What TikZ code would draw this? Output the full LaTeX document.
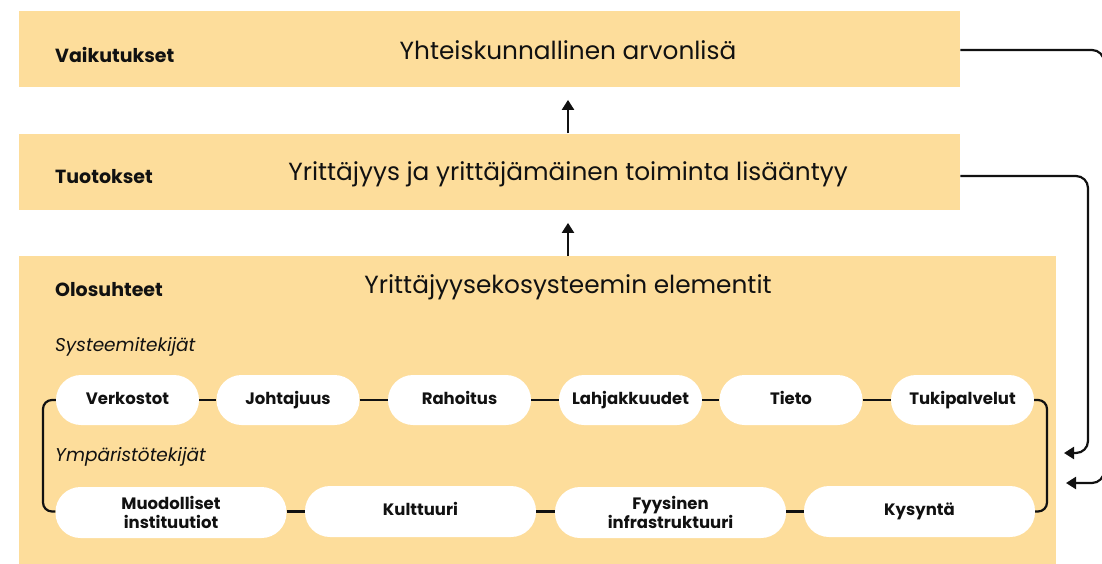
\documentclass[tikz,border=0pt]{standalone}
\usepackage{fontspec}
\setmainfont{Poppins}
\usetikzlibrary{arrows.meta}
\definecolor{band}{HTML}{FDDD9B}
\definecolor{ink}{HTML}{111111}
\begin{document}
\begin{tikzpicture}[x=1pt,y=-1pt,
  bandbox/.style={fill=band,draw=none,inner sep=0pt,anchor=north west},
  lbl/.style={anchor=west,font=\fontsize{19}{20}\selectfont\bfseries,text=ink,inner sep=0pt},
  ttl/.style={font=\fontsize{24.8}{28}\selectfont,text=ink,inner sep=0pt},
  grp/.style={anchor=west,font=\fontsize{18.5}{20}\selectfont\itshape,text=ink,inner sep=0pt},
  pillA/.style={fill=white,draw=none,rounded corners=25pt,minimum width=143pt,minimum height=50pt,inner sep=0pt,align=center,font=\fontsize{16.5}{19}\selectfont\bfseries,text=ink,text height=0.85em,text depth=0pt},
  pillB/.style={pillA,minimum width=231pt,minimum height=51pt},
  twoline/.style={text height=,text depth=},
  conn/.style={draw=ink,line width=2.2pt},
  arr/.style={conn,-{Triangle[width=12pt,length=10pt]}},
  ]
\useasboundingbox (0,0) rectangle (1102,564);
% bands
\node[bandbox,minimum width=941pt,minimum height=76pt] (vai) at (19,10.5) {};
\node[bandbox,minimum width=941pt,minimum height=76pt] (tuo) at (19,133.5) {};
\node[bandbox,minimum width=1037pt,minimum height=308.5pt] (olo) at (19,256) {};
% labels and titles
\node[lbl] (lv) at (55,55) {Vaikutukset};
\node[lbl] (lt) at (55,177) {Tuotokset};
\node[lbl] (lo) at (55,290) {Olosuhteet};
\node[ttl] (tv) at (568,50) {Yhteiskunnallinen arvonlisä};
\node[ttl] (tt) at (568,174) {Yrittäjyys ja yrittäjämäinen toiminta lisääntyy};
\node[ttl] (to) at (568,287) {Yrittäjyysekosysteemin elementit};
\node[grp] (gs) at (55,347) {Systeemitekijät};
\node[grp] (gy) at (55,457) {Ympäristötekijät};
% pills top
\node[pillA] (p1) at (127.5,400) {Verkostot};
\node[pillA] (p2) at (288,400) {Johtajuus};
\node[pillA] (p3) at (459.5,400) {Rahoitus};
\node[pillA] (p4) at (630.5,400) {Lahjakkuudet};
\node[pillA] (p5) at (791,400) {Tieto};
\node[pillA] (p6) at (962.5,400) {Tukipalvelut};
% pills bottom
\node[pillB,twoline] (q1) at (171,512.5) {Muodolliset\\instituutiot};
\node[pillB] (q2) at (420.5,511.5) {Kulttuuri};
\node[pillB,twoline] (q3) at (670.5,512.5) {Fyysinen\\infrastruktuuri};
\node[pillB] (q4) at (919.5,511.5) {Kysyntä};
% pill connectors
\draw[conn] (p1) -- (p2);
\draw[conn] (p2) -- (p3);
\draw[conn] (p3) -- (p4);
\draw[conn] (p4) -- (p5);
\draw[conn] (p5) -- (p6);
\draw[conn] (q1.east |- q2) -- (q2);
\draw[conn] (q2) -- (q3.west |- q2);
\draw[conn] (q3.east |- q4) -- (q4);
% brackets
\coordinate (bl) at (43,400);
\coordinate (br) at (1047,400);
\draw[conn,rounded corners=9pt] (p1.west) -- (bl) -- (bl |- q2) -- (q1.west |- q2);
\draw[conn,rounded corners=9pt] (p6.east) -- (br) -- (br |- q4.east) -- (q4.east);
% upward arrows
\draw[arr,shorten >=13pt] (olo.north -| to) -- (tuo.south -| to);
\draw[arr,shorten >=13pt] (tuo.north -| tt) -- (vai.south -| tt);
% feedback arrows
\coordinate (r1) at (1104,50);
\coordinate (r1b) at (1104,483);
\coordinate (t1) at (1066,483);
\coordinate (r2) at (1088,176);
\coordinate (r2b) at (1088,453);
\coordinate (t2) at (1064,453);
\draw[arr,rounded corners=12pt] (vai.east |- r1) -- (r1) -- (r1b) -- (t1);
\draw[arr,rounded corners=12pt] (tuo.east |- r2) -- (r2) -- (r2b) -- (t2);
\end{tikzpicture}
\end{document}
